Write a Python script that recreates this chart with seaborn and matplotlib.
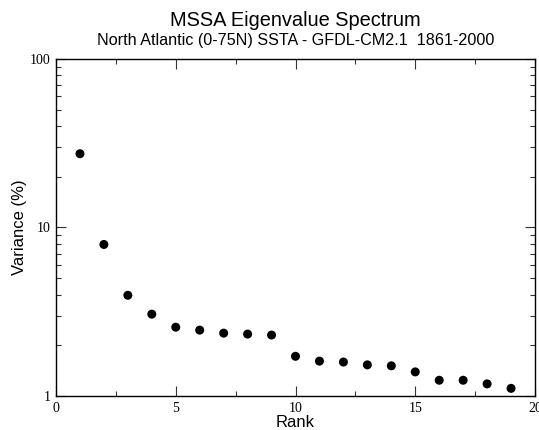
import numpy as np
import pandas as pd
import matplotlib
matplotlib.use('Agg')
import matplotlib.pyplot as plt
import seaborn as sns
from matplotlib.ticker import MultipleLocator, LogLocator, NullFormatter, FixedLocator, FixedFormatter

# Eigenvalue spectrum values
rank = [1, 2, 3, 4, 5, 6, 7, 8, 9, 10, 11, 12, 13, 14, 15, 16, 17, 18, 19]
variance = [27.4, 7.93, 3.96, 3.06, 2.56, 2.46, 2.36, 2.33, 2.30,
            1.72, 1.61, 1.59, 1.53, 1.51, 1.39, 1.24, 1.24, 1.18, 1.11]
xticks = [0, 5, 10, 15, 20]
yticks = [1, 10, 100]

df = pd.DataFrame({'Rank': rank, 'Variance': variance})

sns.set_style('ticks', {'text.color': 'black', 'axes.labelcolor': 'black',
                        'xtick.color': 'black', 'ytick.color': 'black',
                        'axes.edgecolor': 'black'})
plt.rcParams['font.family'] = ['Liberation Sans', 'DejaVu Sans']

fig = plt.figure(figsize=(5.39, 4.30), dpi=100)
ax = fig.add_axes([0.1039, 0.0791, 0.8887, 0.7837])

sns.scatterplot(data=df, x='Rank', y='Variance', ax=ax, color='black',
                s=42, edgecolor='none', legend=False, clip_on=False)

ax.set_yscale('log')
ax.set_xlim(0, 20)
ax.set_ylim(1, 100)

ax.xaxis.set_major_locator(FixedLocator(xticks))
ax.xaxis.set_major_formatter(FixedFormatter([str(t) for t in xticks]))
ax.xaxis.set_minor_locator(MultipleLocator(2.5))
ax.yaxis.set_major_locator(FixedLocator(yticks))
ax.yaxis.set_major_formatter(FixedFormatter([str(t) for t in yticks]))
ax.yaxis.set_minor_locator(LogLocator(base=10, subs=np.arange(2, 10)))
ax.yaxis.set_minor_formatter(NullFormatter())

ax.tick_params(which='both', direction='in', top=True, right=True, width=0.8,
               color='#333333', labelcolor='black')
ax.tick_params(which='major', length=7, pad=4)
ax.tick_params(which='minor', length=3.5)
for lab in ax.get_xticklabels() + ax.get_yticklabels():
    lab.set_fontfamily('Liberation Serif')
    lab.set_fontsize(10)
for sp in ax.spines.values():
    sp.set_linewidth(1.0)
    sp.set_color('black')

ax.set_xlabel('Rank', fontsize=12, labelpad=0, color='black')
ax.set_ylabel('Variance (%)', fontsize=12, labelpad=2, color='black')

# titles centred over the plot area
cx = 0.1039 + 0.8887 / 2
fig.text(cx, 0.953, 'MSSA Eigenvalue Spectrum', ha='center', va='center',
         fontsize=14.4, color='black')
fig.text(cx, 0.906, 'North Atlantic (0-75N) SSTA - GFDL-CM2.1  1861-2000',
         ha='center', va='center', fontsize=11.6, color='black')

fig.savefig('out.png', dpi=100)
